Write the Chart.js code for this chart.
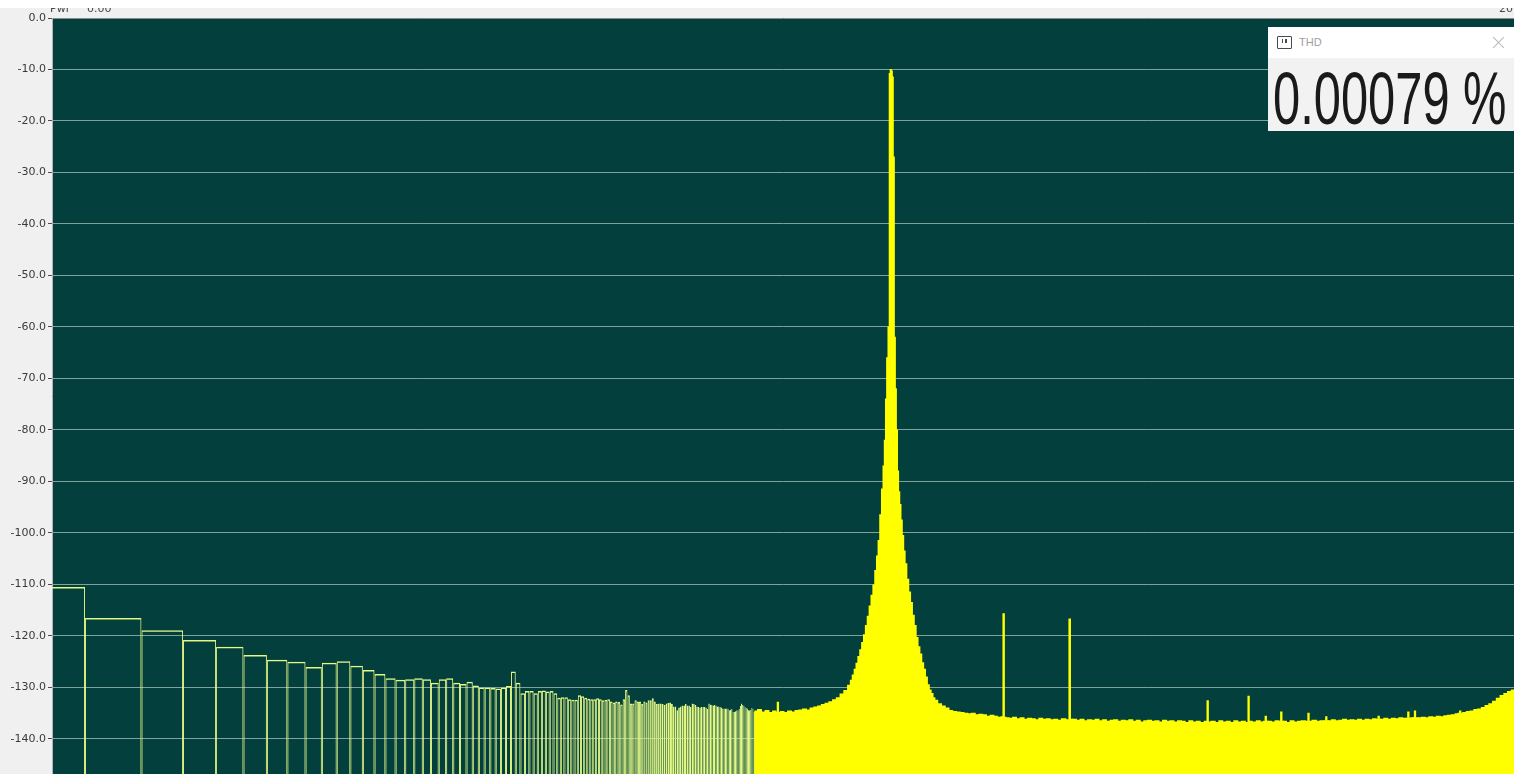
<!DOCTYPE html>
<html>
<head>
<meta charset="utf-8">
<script src="https://cdn.jsdelivr.net/npm/chart.js@4.4.1/dist/chart.umd.min.js"></script>
<style>
html,body{margin:0;padding:0;background:#f0f0f0;overflow:hidden;}
#wrap{position:relative;width:1514px;height:774px;background:#f0f0f0;overflow:hidden;}
#c{position:absolute;left:0;top:0;}
#topwhite{position:absolute;left:0;top:0;width:1514px;height:8px;background:#fff;}
.clip{position:absolute;top:8px;height:5px;overflow:hidden;}
.clip span{position:absolute;top:-5px;left:0;font:11px/11px "DejaVu Sans",sans-serif;color:#444;white-space:nowrap;}
#thd{position:absolute;left:1268px;top:27px;width:246px;height:104px;background:#f2f2f2;font-family:"Liberation Sans",Arial,sans-serif;overflow:hidden;}
#thd .hdr{position:absolute;left:0;top:0;width:246px;height:31px;background:#ffffff;}
#thd .ico{position:absolute;left:9px;top:9px;width:13px;height:11px;border:1.5px solid #4a4a4a;border-radius:1px;}
#thd .ico i{position:absolute;top:2px;width:1.5px;height:4px;background:#4a4a4a;}
#thd .ttl{position:absolute;left:31px;top:10px;font-size:11px;line-height:11px;color:#a0a0a0;}
#thd .x1,#thd .x2{position:absolute;left:223px;top:15px;width:15px;height:1px;background:#b9b9b9;}
#thd .x1{transform:rotate(45deg);} #thd .x2{transform:rotate(-45deg);}
#thd .val{position:absolute;left:5px;top:35px;font-size:74px;line-height:74px;color:#1a1a1a;white-space:nowrap;transform:scaleX(0.66);transform-origin:0 0;}
</style>
</head>
<body>
<div id="wrap">
  <canvas id="c" width="1514" height="774"></canvas>
  <div id="topwhite"></div>
  <div class="clip" style="left:50px;width:70px;"><span>Pwr</span><span style="left:37px">0.00</span></div>
  <div class="clip" style="left:1499px;width:15px;"><span>20k</span></div>
  <div id="thd">
    <div class="hdr">
      <span class="ico"><i style="left:3.5px"></i><i style="left:7px"></i></span>
      <span class="ttl">THD</span>
      <span class="x1"></span><span class="x2"></span>
    </div>
    <div class="val">0.00079 %</div>
  </div>
</div>
<script>
// ---- data ----
const BIN_HZ = 2.8986;          // FFT bin width in Hz
const X_MIN_HZ = 5.797;
const X_MAX_HZ = 45915;
const Y_MIN_DB = -146.8;
const Y_MAX_DB = 0;
const yTickValues = [0, -10, -20, -30, -40, -50, -60, -70, -80, -90, -100, -110, -120, -130, -140];

// individually drawn low-frequency FFT bins
const lowBins = [
  2, 3, 4, 5, 6, 7, 8, 9, 10, 11,
  12, 13, 14, 15, 16, 17, 18, 19, 20, 21,
  22, 23, 24, 25, 26, 27, 28, 29, 30, 31,
  32, 33, 34, 35, 36, 37, 38, 39, 40, 41,
  42, 43, 44, 45, 46, 47, 48, 49, 50, 51,
  52, 53, 54, 55, 56, 57, 58, 59, 60, 61,
  62, 63, 64, 65, 66, 67, 68, 69, 70, 71,
  72, 73, 74, 75, 76, 77, 78, 79, 80, 81,
  82, 83, 84, 85, 86, 87, 88, 89, 90, 91,
  92, 93, 94, 95, 96, 97, 98, 99, 100, 101,
  102, 103, 104, 105, 106, 107, 108, 109, 110, 111,
  112, 113, 114, 115, 116, 117, 118, 119, 120, 121,
  122, 123, 124, 125, 126, 127, 128, 129, 130, 131,
  132, 133, 134, 135, 136, 137, 138, 139, 140, 141,
  142, 143, 144, 145, 146, 147, 148, 149
];
const lowLevelsDb = [
  -110.5, -116.5, -118.9, -120.8, -122.1, -123.7, -124.6, -125.0, -126.0, -125.2,
  -124.9, -125.8, -126.6, -127.4, -128.2, -128.5, -128.4, -128.2, -128.4, -129.1,
  -128.4, -128.2, -129.1, -129.3, -128.9, -129.6, -130.0, -130.0, -130.1, -130.2,
  -130.0, -129.7, -126.9, -129.1, -131.1, -130.7, -130.7, -131.1, -130.7, -130.6,
  -130.8, -130.7, -131.1, -132.0, -131.9, -131.9, -132.3, -132.4, -132.4, -131.5,
  -131.7, -132.0, -132.2, -132.3, -132.3, -132.1, -132.3, -132.5, -132.4, -132.3,
  -132.7, -132.9, -132.7, -132.8, -133.3, -132.3, -130.5, -131.5, -133.1, -133.1,
  -132.5, -132.7, -132.7, -133.2, -132.7, -132.9, -132.5, -132.5, -132.1, -132.7,
  -133.2, -133.1, -133.1, -133.2, -133.4, -133.1, -133.0, -132.9, -133.2, -133.7,
  -133.7, -134.4, -133.9, -133.7, -133.5, -133.5, -133.2, -133.5, -133.5, -133.8,
  -133.1, -133.2, -133.4, -133.7, -133.8, -133.9, -133.8, -133.8, -133.8, -133.9,
  -134.2, -133.1, -133.3, -133.4, -133.5, -133.4, -133.5, -133.7, -133.7, -133.8,
  -133.9, -134.1, -134.1, -134.1, -134.1, -134.1, -134.4, -134.3, -134.2, -134.7,
  -134.7, -134.6, -134.4, -134.4, -134.2, -133.6, -133.1, -133.4, -133.5, -133.8,
  -134.0, -134.1, -134.4, -134.4, -134.3, -134.0, -134.1, -134.7
];

// densely packed part of the spectrum (Hz)
const hiFreqHz = [
  436.5, 446.7, 457.1, 467.7, 478.6, 489.8, 496.5, 500, 503.5, 512.9,
  524.8, 537, 549.5, 562.3, 575.4, 588.8, 602.6, 616.6, 631, 645.7,
  660.7, 676.1, 691.8, 707.9, 724.4, 741.3, 758.6, 776.2, 785, 794.3,
  803.5, 812.8, 822, 831.8, 841.4, 851.1, 861, 871, 881, 891.3,
  901.6, 912, 921, 930, 940, 950, 958, 965, 972, 979,
  988, 994, 1000, 1006, 1012, 1018, 1025, 1031, 1038, 1045,
  1052, 1060, 1068, 1077, 1087, 1096, 1110, 1122, 1135, 1148,
  1161, 1175, 1188, 1202, 1216, 1230, 1244, 1259, 1273, 1288,
  1303, 1318, 1349, 1380, 1413, 1445, 1479, 1514, 1549, 1585,
  1622, 1660, 1698, 1738, 1778, 1820, 1862, 1905, 1950, 1985,
  2000, 2015, 2042, 2089, 2138, 2188, 2239, 2291, 2344, 2399,
  2455, 2512, 2570, 2630, 2692, 2754, 2818, 2884, 2975, 3000,
  3025, 3090, 3162, 3236, 3311, 3388, 3467, 3548, 3631, 3715,
  3802, 3890, 3981, 4074, 4169, 4266, 4365, 4467, 4571, 4677,
  4786, 4898, 5012, 5129, 5248, 5370, 5495, 5623, 5754, 5888,
  6026, 6166, 6310, 6457, 6607, 6761, 6950, 7000, 7050, 7244,
  7413, 7586, 7762, 7943, 8128, 8318, 8511, 8710, 8937, 9000,
  9063, 9333, 9550, 9772, 9930, 10000, 10070, 10230, 10470, 10720,
  10920, 11000, 11080, 11220, 11480, 11750, 12020, 12300, 12590, 12910,
  13000, 13090, 13490, 13800, 14130, 14400, 14500, 14600, 14790, 15140,
  15490, 15850, 16220, 16600, 16980, 17380, 17780, 18200, 18620, 19050,
  19500, 19860, 20000, 20140, 20420, 20890, 21380, 21880, 22390, 22910,
  23440, 23830, 24000, 24170, 24550, 24830, 25000, 25170, 25700, 26300,
  26920, 27540, 28180, 28840, 29510, 30200, 30900, 31620, 32360, 32770,
  33000, 33230, 33880, 34670, 35480, 36310, 37150, 38020, 38900, 39810,
  40740, 41690, 42660, 43650, 44670, 45710, 48000
];
const hiLevelsDb = [
  -134.6, -134.3, -134.8, -134.5, -134.9, -134.6, -134.8, -132.9, -134.9, -134.7,
  -134.9, -134.6, -134.8, -134.5, -134.4, -134.2, -134.4, -134.0, -133.8, -133.6,
  -133.3, -133.1, -132.8, -132.4, -132.0, -131.3, -130.6, -129.6, -128.6, -127.6,
  -126.5, -125.3, -124.0, -122.7, -121.3, -119.8, -118.0, -116.2, -114.2, -112.1,
  -110.1, -107.3, -104.5, -101.5, -96.5, -91.5, -87, -82, -74, -66,
  -60, -10.8, -10.0, -10.3, -11.5, -27, -62, -72, -80, -88,
  -92, -94.5, -97.5, -100.5, -103.5, -106, -109, -111.5, -113.5, -116,
  -118, -120.3, -122.1, -123.5, -125.2, -126.5, -128.0, -129.5, -130.5, -131.2,
  -132.0, -132.5, -133.2, -133.6, -134.0, -134.5, -134.7, -134.8, -134.9, -135.0,
  -135.1, -135.0, -135.3, -135.2, -135.3, -135.6, -135.4, -135.6, -135.8, -135.7,
  -115.7, -135.8, -135.9, -136.0, -135.8, -136.1, -135.9, -136.2, -136.0, -136.1,
  -136.3, -136.0, -136.2, -136.1, -136.3, -136.2, -136.4, -136.1, -136.3, -116.7,
  -136.2, -136.2, -136.4, -136.2, -136.5, -136.3, -136.4, -136.2, -136.5, -136.3,
  -136.6, -136.4, -136.3, -136.6, -136.4, -136.5, -136.3, -136.6, -136.4, -136.7,
  -136.5, -136.4, -136.6, -136.5, -136.7, -136.4, -136.6, -136.5, -136.7, -136.5,
  -136.6, -136.8, -136.5, -136.7, -136.6, -136.8, -136.6, -132.6, -136.7, -136.6,
  -136.8, -136.5, -136.7, -136.6, -136.8, -136.5, -136.7, -136.6, -136.8, -131.7,
  -136.6, -136.7, -136.5, -136.7, -136.6, -135.6, -136.6, -136.6, -136.7, -136.5,
  -136.6, -134.8, -136.6, -136.6, -136.8, -136.5, -136.7, -136.6, -136.5, -136.6,
  -135.0, -136.6, -136.4, -136.6, -136.5, -136.5, -135.7, -136.5, -136.5, -136.3,
  -136.5, -136.4, -136.2, -136.4, -136.3, -136.4, -136.2, -136.4, -136.2, -136.3,
  -136.1, -136.2, -135.6, -136.2, -136.2, -136.0, -136.2, -136.0, -136.1, -135.9,
  -136.0, -136.0, -134.8, -136.0, -135.9, -135.9, -134.6, -135.9, -135.9, -135.8,
  -135.9, -135.7, -135.8, -135.6, -135.7, -135.5, -135.4, -135.3, -135.1, -135.0,
  -134.6, -135.0, -134.9, -134.7, -134.6, -134.3, -134.2, -133.9, -133.5, -133.2,
  -132.7, -132.1, -131.6, -131.2, -130.8, -130.5, -130.2
];

// ---- build the library data ----
const LOW_COUNT = lowBins.length;
const points = lowBins.map((b, i) => ({ x: b * BIN_HZ, y: lowLevelsDb[i] }))
  .concat(hiFreqHz.map((f, i) => ({ x: f, y: hiLevelsDb[i] })));

const plotBg = {
  id: 'plotBg',
  beforeDraw(chart) {
    const { ctx, chartArea: a } = chart;
    ctx.save();
    ctx.fillStyle = '#023f3d';
    ctx.fillRect(a.left, a.top, a.right - a.left, a.bottom - a.top);
    ctx.restore();
  }
};

const isLow = (c) => c.dataIndex < LOW_COUNT;

new Chart(document.getElementById('c'), {
  type: 'bar',
  data: {
    datasets: [{
      data: points,
      base: -200,
      clip: 0,
      grouped: true,
      barThickness: 'flex',
      categoryPercentage: 1,
      barPercentage: 1,
      borderSkipped: 'start',
      backgroundColor: (c) => isLow(c) ? 'rgba(0,0,0,0)' : '#ffff00',
      borderColor: (c) => isLow(c) ? '#e4f884' : '#ffff00',
      borderWidth: (c) => isLow(c) ? { top: 1.5, left: 0.95, right: 0.95, bottom: 0 } : 0,
      inflateAmount: (c) => isLow(c) ? 0 : 0.6
    }]
  },
  options: {
    responsive: false,
    animation: false,
    devicePixelRatio: 1,
    events: [],
    layout: { padding: { top: 18, right: 0, bottom: 0, left: 0 } },
    plugins: { legend: { display: false }, tooltip: { enabled: false } },
    scales: {
      x: {
        type: 'logarithmic',
        display: false,
        offset: false,
        min: X_MIN_HZ,
        max: X_MAX_HZ
      },
      y: {
        type: 'linear',
        min: Y_MIN_DB,
        max: Y_MAX_DB,
        stacked: false,
        afterBuildTicks: (s) => { s.ticks = yTickValues.map(v => ({ value: v })); },
        afterFit: (s) => { s.width = 52; s.paddingTop = 0; s.paddingBottom = 0; },
        ticks: {
          autoSkip: false,
          padding: 2,
          color: '#3a3a3a',
          font: { family: 'DejaVu Sans', size: 11 },
          callback: (v) => Number(v).toFixed(1)
        },
        grid: {
          color: (c) => (c.tick && c.tick.value === 0) ? '#8a8a8a' : 'rgba(205,222,216,0.62)',
          lineWidth: 1,
          drawTicks: true,
          tickLength: 4,
          tickColor: '#4a4a4a'
        },
        border: { display: true, color: '#b4b4b4', width: 1 }
      }
    }
  },
  plugins: [plotBg]
});
</script>
</body>
</html>
